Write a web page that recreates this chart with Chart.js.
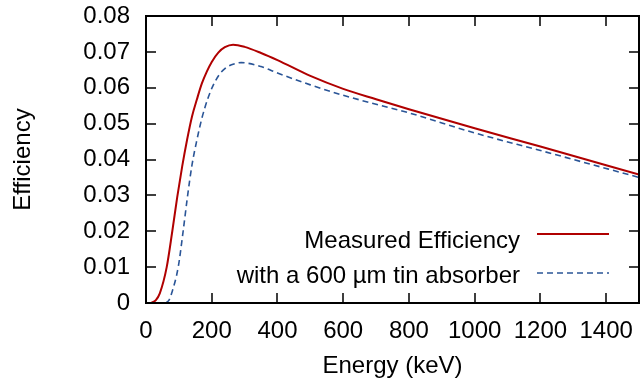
<!DOCTYPE html>
<html>
<head>
<meta charset="utf-8">
<script src="https://cdn.jsdelivr.net/npm/chart.js@4/dist/chart.umd.min.js"></script>
<style>
  html, body { margin: 0; padding: 0; background: #fff; }
  canvas { display: block; }
</style>
</head>
<body>
<canvas id="effChart" width="641" height="387"></canvas>
<script>
// values
const measuredEnergy = [15, 30, 42, 63, 80, 95, 110, 125, 140, 155, 170, 185, 200, 220, 240, 265, 300, 350, 400, 500, 600, 700, 800, 1000, 1200, 1400, 1500];
const measuredEff = [0, 0.0008, 0.0027, 0.010, 0.020, 0.0295, 0.0380, 0.0455, 0.0520, 0.0568, 0.0612, 0.0645, 0.0672, 0.0698, 0.0713, 0.0720, 0.0714, 0.0697, 0.0677, 0.0633, 0.0597, 0.0568, 0.0540, 0.0487, 0.0436, 0.0384, 0.0358];

const absorberEnergy = [60, 70, 78, 98, 113, 126, 140, 155, 170, 189, 205, 224, 240, 260, 290, 350, 400, 500, 600, 700, 800, 1000, 1200, 1400, 1500];
const absorberEff = [0, 0.0008, 0.0027, 0.010, 0.020, 0.0295, 0.0385, 0.0455, 0.0515, 0.0572, 0.0608, 0.0638, 0.0653, 0.0664, 0.0670, 0.0659, 0.0641, 0.0608, 0.0579, 0.0554, 0.0530, 0.0474, 0.0425, 0.0375, 0.0350];

const seriesLabels = ["Measured Efficiency", "with a 600 \u00b5m tin absorber"];
const xTicks = [0, 200, 400, 600, 800, 1000, 1200, 1400];
const yTicks = [0, 0.01, 0.02, 0.03, 0.04, 0.05, 0.06, 0.07, 0.08];

const fontName = "'Liberation Sans', Arial, Helvetica, sans-serif";

function toPoints(xs, ys) {
    return xs.map((x, i) => ({ x: x, y: ys[i] }));
}

// frame with inward ticks on all four sides, and the legend inside the plot
const framePlugin = {
    id: 'frame',
    afterDatasetsDraw(chart) {
        const ctx = chart.ctx;
        const a = chart.chartArea;
        const xs = chart.scales.x;
        const ys = chart.scales.y;
        ctx.save();
        ctx.strokeStyle = '#000';
        ctx.lineWidth = 1.5;
        ctx.beginPath();
        xTicks.forEach(v => {
            const px = Math.round(xs.getPixelForValue(v));
            ctx.moveTo(px, a.bottom); ctx.lineTo(px, a.bottom - 10);
            ctx.moveTo(px, a.top); ctx.lineTo(px, a.top + 10);
        });
        yTicks.forEach(v => {
            const py = Math.round(ys.getPixelForValue(v));
            ctx.moveTo(a.left, py); ctx.lineTo(a.left + 10, py);
            ctx.moveTo(a.right, py); ctx.lineTo(a.right - 10, py);
        });
        ctx.stroke();
        ctx.lineWidth = 2;
        ctx.strokeRect(a.left, a.top, a.right - a.left, a.bottom - a.top);

        // legend
        ctx.font = "24px " + fontName;
        ctx.fillStyle = '#000';
        ctx.textAlign = 'right';
        ctx.textBaseline = 'alphabetic';
        const rows = [a.bottom - 55, a.bottom - 20];
        chart.data.datasets.forEach((ds, i) => {
            const y = rows[i];
            ctx.fillText(ds.label, a.right - 119, y);
            ctx.beginPath();
            ctx.strokeStyle = ds.borderColor;
            ctx.lineWidth = ds.borderWidth;
            ctx.setLineDash(ds.borderDash || []);
            const ly = i === 0 ? y - 14 : y - 10;
            ctx.moveTo(a.right - 102, ly);
            ctx.lineTo(a.right - 30, ly);
            ctx.stroke();
            ctx.setLineDash([]);
        });
        ctx.restore();
    }
};

new Chart(document.getElementById('effChart'), {
    type: 'line',
    data: {
        datasets: [{
            label: seriesLabels[0],
            data: toPoints(measuredEnergy, measuredEff),
            borderColor: '#b00000',
            borderWidth: 2,
            pointRadius: 0,
            cubicInterpolationMode: 'monotone',
            fill: false
        }, {
            label: seriesLabels[1],
            data: toPoints(absorberEnergy, absorberEff),
            borderColor: '#2a5597',
            borderWidth: 1.6,
            borderDash: [6, 4],
            pointRadius: 0,
            cubicInterpolationMode: 'monotone',
            fill: false
        }]
    },
    options: {
        responsive: false,
        animation: false,
        devicePixelRatio: 1,
        layout: { padding: { top: 16, right: 2, left: 0, bottom: 0 } },
        plugins: {
            legend: { display: false },
            tooltip: { enabled: false }
        },
        scales: {
            x: {
                type: 'linear',
                min: 0,
                max: 1500,
                grid: { display: false, drawTicks: false },
                border: { display: false },
                ticks: {
                    stepSize: 200,
                    includeBounds: false,
                    padding: 14,
                    maxRotation: 0,
                    autoSkip: false,
                    color: '#000',
                    font: { family: fontName, size: 24 },
                    callback: v => String(v)
                },
                title: {
                    display: true,
                    text: 'Energy (keV)',
                    color: '#000',
                    font: { family: fontName, size: 24 },
                    padding: { top: 0, bottom: 6 }
                },
                afterFit(scale) {
                    scale.height = 84;
                    scale.paddingLeft = 0;
                    scale.paddingRight = 0;
                }
            },
            y: {
                type: 'linear',
                min: 0,
                max: 0.08,
                grid: { display: false, drawTicks: false },
                border: { display: false },
                ticks: {
                    stepSize: 0.01,
                    padding: 16,
                    color: '#000',
                    font: { family: fontName, size: 24 },
                    callback: v => v === 0 ? '0' : v.toFixed(2)
                },
                title: {
                    display: true,
                    text: 'Efficiency',
                    color: '#000',
                    font: { family: fontName, size: 24 },
                    padding: { top: 9, bottom: 0 }
                },
                afterFit(scale) {
                    scale.width = 146;
                    scale.paddingTop = 0;
                    scale.paddingBottom = 0;
                }
            }
        }
    },
    plugins: [framePlugin]
});
</script>
</body>
</html>
